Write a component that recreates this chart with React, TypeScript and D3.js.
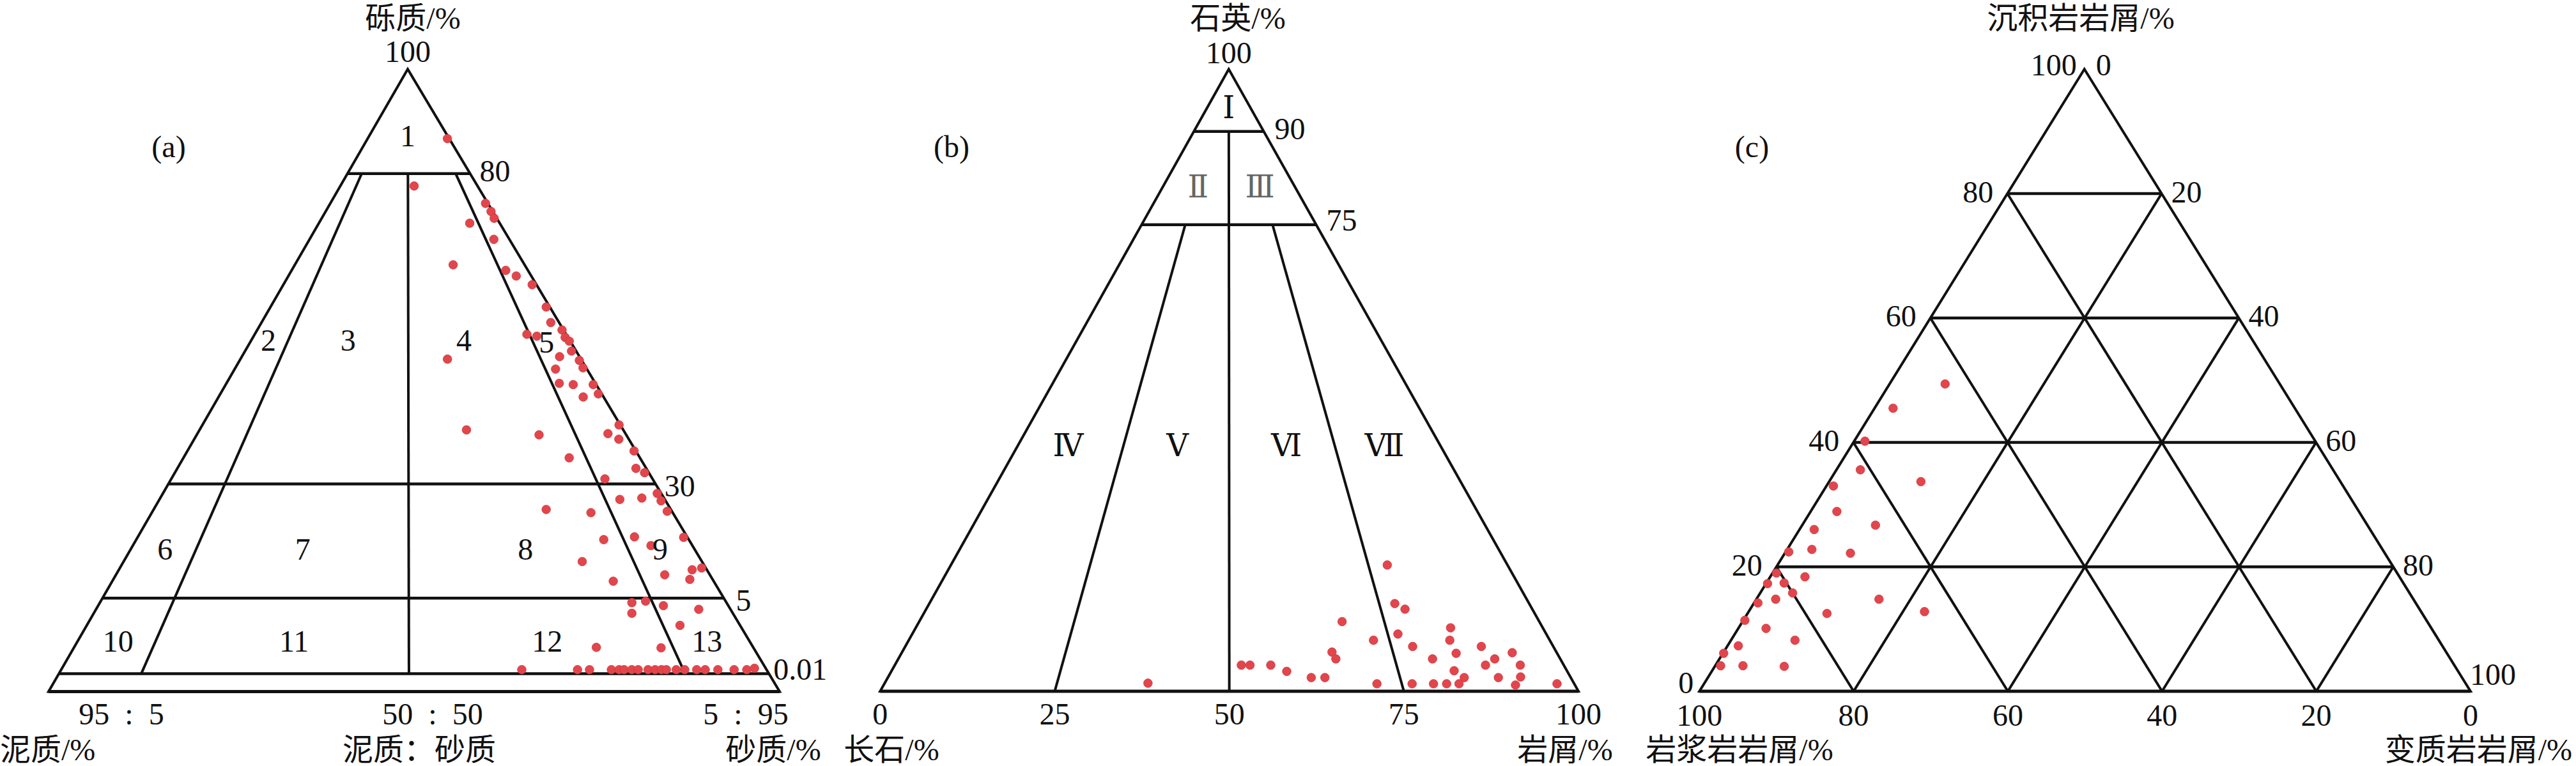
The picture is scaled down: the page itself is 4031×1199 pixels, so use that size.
import React from 'react';
import * as d3 from 'd3';

// ---------------- Panel (a): Folk gravel–sand–mud ----------------
const gravelLevels = [80, 30, 5, 0.01];
const gravelLevelLabels = ['80', '30', '5', '0.01'];
const mudSandRays = [11.6, 49.3, 88.2];
const mudSandLabels = ['95\u2002:\u20025', '50\u2002:\u200250', '5\u2002:\u200295'];
const folkRegionNames = ['1', '2', '3', '4', '5', '6', '7', '8', '9', '10', '11', '12', '13'];
const folkRegionGravel = [87.3, 53.2, 53.2, 53.2, 52.8, 15.7, 15.7, 15.7, 15.7, 2.18, 2.18, 2.18, 2.18];
const folkRegionSand = [49.1, 5.3, 30.4, 66.8, 92.4, 6.1, 30.5, 70.0, 93.9, 6.0, 32.2, 69.9, 93.7];
// [gravel %, sand/(sand+mud) %]
const samplesA: [number, number][] = [
  [86.7, 97.8], [78.0, 53.8], [75.2, 98.5], [73.9, 99.0], [72.8, 98.5], [72.0, 83.4], [69.4, 92.2],
  [65.3, 68.9], [64.4, 90.6], [63.5, 93.8], [62.1, 98.3], [58.5, 98.7], [56.0, 97.2], [54.8, 99.5],
  [54.1, 87.4], [53.8, 90.3], [53.6, 99.1], [53.0, 99.7], [51.4, 98.6], [50.5, 94.1], [49.9, 99.3],
  [48.7, 99.1], [48.5, 91.1], [46.2, 90.2], [46.0, 93.8], [46.0, 99.2], [44.5, 99.1], [44.0, 94.7],
  [39.5, 99.7], [38.1, 95.9], [37.2, 97.7], [37.9, 79.7], [35.3, 99.6], [34.2, 84.5], [32.5, 97.8],
  [31.8, 99.1], [30.8, 90.1], [27.9, 99.2], [26.3, 99.1], [26.9, 95.6], [26.6, 91.1], [23.7, 84.3],
  [24.0, 99.1], [18.3, 99.3], [17.8, 84.6], [18.4, 90.4], [16.5, 92.6], [11.6, 99.3], [11.2, 97.5],
  [9.1, 96.2], [10.1, 92.4], [8.7, 83.3], [4.7, 84.9], [4.8, 87.2], [4.5, 89.7], [4.0, 84.2],
  [4.26, 95.0], [3.2, 90.8], [1.75, 76.9], [1.72, 86.4], [50.1, 60.8], [38.7, 63.0], [24.4, 75.9],
  [13.0, 79.3],
  [0.28, 65.3], [0.28, 73.2], [0.28, 74.9], [0.28, 78.0], [0.28, 79.1], [0.28, 79.8], [0.28, 80.9],
  [0.28, 81.8], [0.28, 83.2], [0.28, 84.2], [0.28, 85.1], [0.28, 85.8], [0.28, 87.2], [0.28, 88.4],
  [0.28, 90.1], [0.28, 91.3], [0.28, 93.1], [0.28, 95.4], [0.28, 97.2], [0.37, 98.4],
];

// ---------------- Panel (b): Q–F–R ----------------
const quartzLevels = [90, 75];
const quartzLevelLabels = ['90', '75'];
const rockRays = [25, 75];
const baseTicksB = [0, 25, 50, 75, 100];
const qfrZoneNames = ['Ⅰ', 'Ⅱ', 'Ⅲ', 'Ⅳ', 'Ⅴ', 'Ⅵ', 'Ⅶ'];
const qfrZoneQuartz = [93.8, 81.1, 81.1, 39.5, 39.5, 39.5, 39.5];
const qfrZoneRock = [50, 26.7, 73.6, 11.9, 37.8, 63.6, 86.8];
// [quartz %, rock fragments/(feldspar+rock fragments) %]
const samplesB: [number, number][] = [
  [20.3, 78.4], [14.1, 77.6], [13.2, 79.0], [11.2, 68.2], [10.2, 85.3], [9.2, 76.6], [8.2, 72.5],
  [8.2, 84.4], [7.2, 78.3], [7.2, 88.9], [6.3, 65.7], [6.1, 84.6], [6.2, 93.2], [5.2, 66.1],
  [5.2, 80.7], [5.2, 90.1], [4.2, 51.8], [4.2, 53.1], [4.2, 56.2], [4.2, 88.3], [4.2, 93.5],
  [3.2, 58.5], [3.3, 83.3], [2.2, 62.0], [2.2, 64.0], [2.2, 84.4], [2.2, 89.4], [2.3, 92.7],
  [1.3, 38.2], [1.2, 71.4], [1.2, 76.5], [1.2, 79.6], [1.2, 81.5], [1.2, 83.3], [1.0, 91.4],
  [1.2, 97.5],
];

// ---------------- Panel (c): sedimentary–igneous–metamorphic lithics ----------------
const gridSteps = [20, 40, 60, 80];
const edgeTicksC = [0, 20, 40, 60, 80, 100];
// [sedimentary %, metamorphic %]; igneous = 100 - both
const samplesC: [number, number][] = [
  [49.4, 7.2], [45.5, 2.4], [40.2, 1.4], [35.6, 3.1], [33.7, 11.9], [33.0, 0.9], [28.9, 3.4],
  [26.7, 9.5], [26.0, 1.9], [22.4, 0.4], [22.8, 3.2], [22.2, 8.5], [19.0, 0.5], [18.4, 4.5],
  [17.3, 0.2], [17.4, 2.3], [15.8, 4.2], [14.2, 0.5], [14.8, 2.5], [14.8, 15.9], [12.5, 10.3],
  [12.8, 22.8], [11.4, 0.2], [10.1, 3.6], [8.2, 8.3], [7.3, 1.4], [6.1, 0.1], [4.1, 0.7],
  [4.1, 3.6], [4.0, 9.0],
];

// ---------------- geometry ----------------
const W = 4031;
const H = 1199;
const FONT = '"Liberation Serif", "DejaVu Serif", "Noto Sans CJK SC", serif';
const FS = 48;
const LW = 4;
const DOT = '#e2464c';
const DOT_STROKE = '#c8383e';

// (a)
const aApex = { x: 638, y: 108.3 };
const aBaseY = 1082.5;
const aGravelY = d3.scaleLinear().domain([0, 0.01, 5, 30, 80, 100]).range([1082.5, 1054.6, 936.2, 757.4, 271.7, 108.3]);
const aBaseX = d3.scaleLinear().domain([0, 100]).range([76, 1220]);
function aPt(g: number, r: number): [number, number] {
  const y = aGravelY(g);
  const k = (y - aApex.y) / (aBaseY - aApex.y);
  return [aApex.x + (aBaseX(r) - aApex.x) * k, y];
}

// (b)
const bApex = { x: 1922.8, y: 108.3 };
const bBaseY = 1082;
const bQuartzY = d3.scaleLinear().domain([0, 100]).range([bBaseY, bApex.y]);
const bBaseX = d3.scaleLinear().domain([0, 100]).range([1377.3, 2470]);
function bPt(q: number, s: number): [number, number] {
  const y = bQuartzY(q);
  const k = (y - bApex.y) / (bBaseY - bApex.y);
  return [bApex.x + (bBaseX(s) - bApex.x) * k, y];
}

// (c)
const cS = [3261.7, 108.3];
const cI = [2659.3, 1082];
const cM = [3865.9, 1082];
function cPt(sed: number, met: number): [number, number] {
  const s = sed / 100, m = met / 100, i = 1 - s - m;
  return [s * cS[0] + i * cI[0] + m * cM[0], s * cS[1] + i * cI[1] + m * cM[1]];
}

const line = d3.line();

function T(props: { x: number; y: number; children: React.ReactNode; anchor?: string; fill?: string; size?: number }) {
  return (
    <text
      x={props.x}
      y={props.y}
      textAnchor={(props.anchor || 'middle') as any}
      dominantBaseline="central"
      fontFamily={FONT}
      fontSize={props.size || FS}
      fill={props.fill || '#111'}
    >
      {props.children}
    </text>
  );
}

function Seg({ a, b, w = LW }: { a: [number, number]; b: [number, number]; w?: number }) {
  return <path d={line([a, b]) || ''} stroke="#111" strokeWidth={w} fill="none" />;
}

function PanelA() {
  const outer = [[aApex.x, aApex.y], aPt(0, 0), aPt(0, 100)] as [number, number][];
  const labelDx = [15, 14, 19, 7];
  const labelDy = [-4, 3, 3, -7];
  const ratioLabelX = [190, 677, 1167];
  return (
    <g>
      <path d={(line(outer) || '') + 'Z'} stroke="#111" strokeWidth={LW} fill="none" strokeLinejoin="miter" />
      <Seg a={aPt(0, 0)} b={aPt(0, 100)} w={5} />
      {gravelLevels.map((g) => (
        <Seg key={'h' + g} a={aPt(g, 0)} b={aPt(g, 100)} w={4.5} />
      ))}
      {mudSandRays.map((r) => (
        <Seg key={'r' + r} a={aPt(80, r)} b={aPt(0.01, r)} />
      ))}
      {samplesA.map((d, i) => {
        const [x, y] = aPt(d[0], d[1]);
        return <circle key={i} cx={x} cy={y} r={6.8} fill={DOT} stroke={DOT_STROKE} strokeWidth={0.8} />;
      })}
      {folkRegionNames.map((n, i) => {
        const [x, y] = aPt(folkRegionGravel[i], folkRegionSand[i]);
        return <T key={n} x={x} y={y}>{n}</T>;
      })}
      {gravelLevels.map((g, i) => {
        const [x, y] = aPt(g, 100);
        return <T key={'gl' + g} x={x + labelDx[i]} y={y + labelDy[i]} anchor="start">{gravelLevelLabels[i]}</T>;
      })}
      {mudSandLabels.map((t, i) => (
        <T key={t} x={ratioLabelX[i]} y={1117.6}>{t}</T>
      ))}
      <T x={aApex.x} y={80}>100</T>
      <T x={646} y={28.7}>砾质/%</T>
      <T x={264} y={229.6}>(a)</T>
      <T x={0} y={1173} anchor="start">泥质/%</T>
      <T x={656} y={1173}>泥质：砂质</T>
      <T x={1210} y={1173}>砂质/%</T>
    </g>
  );
}

function PanelB() {
  const outer = [[bApex.x, bApex.y], bPt(0, 0), bPt(0, 100)] as [number, number][];
  const qDx = [17, 16];
  const qDy = [-4, -7];
  return (
    <g>
      <path d={(line(outer) || '') + 'Z'} stroke="#111" strokeWidth={LW} fill="none" />
      <Seg a={bPt(0, 0)} b={bPt(0, 100)} w={5} />
      {quartzLevels.map((q) => (
        <Seg key={'q' + q} a={bPt(q, 0)} b={bPt(q, 100)} w={4.5} />
      ))}
      <Seg a={bPt(90, 50)} b={bPt(0, 50)} />
      {rockRays.map((s) => (
        <Seg key={'s' + s} a={bPt(75, s)} b={bPt(0, s)} />
      ))}
      {samplesB.map((d, i) => {
        const [x, y] = bPt(d[0], d[1]);
        return <circle key={i} cx={x} cy={y} r={6.8} fill={DOT} stroke={DOT_STROKE} strokeWidth={0.8} />;
      })}
      {qfrZoneNames.map((n, i) => {
        const [x, y] = bPt(qfrZoneQuartz[i], qfrZoneRock[i]);
        return <T key={n} x={x} y={y} fill={i === 1 || i === 2 ? '#666' : '#111'}>{n}</T>;
      })}
      {quartzLevels.map((q, i) => {
        const [x, y] = bPt(q, 100);
        return <T key={'ql' + q} x={x + qDx[i]} y={y + qDy[i]} anchor="start">{quartzLevelLabels[i]}</T>;
      })}
      {baseTicksB.map((v) => (
        <T key={'bt' + v} x={bBaseX(v)} y={1117.6}>{String(v)}</T>
      ))}
      <T x={bApex.x} y={82}>100</T>
      <T x={1937} y={28.7}>石英/%</T>
      <T x={1489} y={229.6}>(b)</T>
      <T x={1395} y={1173}>长石/%</T>
      <T x={2449} y={1173}>岩屑/%</T>
    </g>
  );
}

function PanelC() {
  const outer = [cPt(100, 0), cPt(0, 0), cPt(0, 100)] as [number, number][];
  return (
    <g>
      {gridSteps.map((v) => (
        <g key={'g' + v}>
          <Seg a={cPt(v, 0)} b={cPt(v, 100 - v)} w={4.5} />
          <Seg a={cPt(0, v)} b={cPt(100 - v, v)} />
          <Seg a={cPt(0, 100 - v)} b={cPt(100 - v, 0)} />
        </g>
      ))}
      <path d={(line(outer) || '') + 'Z'} stroke="#111" strokeWidth={LW} fill="none" />
      <Seg a={cPt(0, 0)} b={cPt(0, 100)} w={5} />
      {samplesC.map((d, i) => {
        const [x, y] = cPt(d[0], d[1]);
        return <circle key={i} cx={x} cy={y} r={6.8} fill={DOT} stroke={DOT_STROKE} strokeWidth={0.8} />;
      })}
      {edgeTicksC.map((v) => {
        const [x, y] = cPt(v, 0);
        if (v === 100) return <T key={'l' + v} x={x - 12} y={y - 7} anchor="end">{String(v)}</T>;
        if (v === 0) return <T key={'l' + v} x={x - 9} y={y - 14} anchor="end">{String(v)}</T>;
        return <T key={'l' + v} x={x - 22} y={y - 3} anchor="end">{String(v)}</T>;
      })}
      {edgeTicksC.map((v) => {
        const [x, y] = cPt(100 - v, v);
        if (v === 0) return <T key={'r' + v} x={x + 18} y={y - 7} anchor="start">{String(v)}</T>;
        if (v === 100) return <T key={'r' + v} x={x - 1} y={y - 27} anchor="start">{String(v)}</T>;
        return <T key={'r' + v} x={x + 15} y={y - 3} anchor="start">{String(v)}</T>;
      })}
      {edgeTicksC.map((v) => {
        const [x] = cPt(0, 100 - v);
        return <T key={'b' + v} x={x} y={1119}>{String(v)}</T>;
      })}
      <T x={3256} y={28.7}>沉积岩岩屑/%</T>
      <T x={2741.5} y={229.6}>(c)</T>
      <T x={2722} y={1173}>岩浆岩岩屑/%</T>
      <T x={4025} y={1173} anchor="end">变质岩岩屑/%</T>
    </g>
  );
}

export default function App() {
  return (
    <svg
      width={W}
      height={H}
      viewBox={`0 0 ${W} ${H}`}
      style={{ position: 'absolute', left: 0, top: 0, background: '#fff' }}
    >
      <rect x={0} y={0} width={W} height={H} fill="#fff" />
      <PanelA />
      <PanelB />
      <PanelC />
    </svg>
  );
}
